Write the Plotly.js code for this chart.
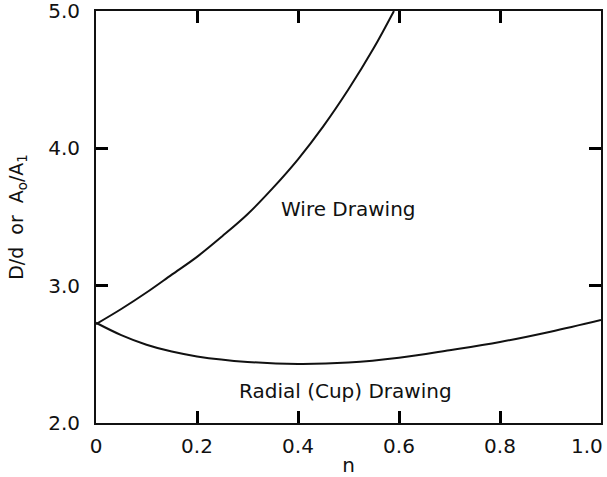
<!DOCTYPE html>
<html>
<head>
<meta charset="utf-8">
<script src="https://cdn.plot.ly/plotly-3.0.1.min.js"></script>
<style>html,body{margin:0;padding:0;background:#fff;}#chart{width:607px;height:477px;}</style>
</head>
<body>
<div id="chart"></div>
<script>
// Wire drawing limiting ratio vs n
const wireN = [0, 0.05, 0.10, 0.15, 0.20, 0.25, 0.30, 0.35, 0.40, 0.45, 0.50, 0.55, 0.59];
const wireY = [2.72, 2.83, 2.95, 3.08, 3.21, 3.36, 3.52, 3.71, 3.92, 4.16, 4.43, 4.73, 5.00];
// Radial (cup) drawing limiting ratio vs n
const cupN = [0, 0.05, 0.10, 0.15, 0.20, 0.30, 0.40, 0.50, 0.60, 0.70, 0.80, 0.90, 1.00];
const cupY = [2.73, 2.64, 2.57, 2.52, 2.485, 2.445, 2.43, 2.44, 2.475, 2.53, 2.59, 2.665, 2.75];
// Tick labels
const xTickVals = [0, 0.2, 0.4, 0.6, 0.8, 1.0];
const xTickText = ["0", "0.2", "0.4", "0.6", "0.8", "1.0"];
const yTickVals = [2, 3, 4, 5];
const yTickText = ["2.0", "3.0", "4.0", "5.0"];
// Curve labels
const labelText = ["Wire Drawing", "Radial (Cup) Drawing"];
const labelX = [0.50, 0.495];
const labelY = [3.56, 2.23];

const FONT = "DejaVu Sans, sans-serif";
const INK = "#111";
const TICK = "black";
const last = xTickVals.length - 1;

const traces = [
  {x: wireN, y: wireY, mode: "lines", line: {color: INK, width: 2, shape: "spline", smoothing: 1}, hoverinfo: "skip"},
  {x: cupN, y: cupY, xaxis: "x2", yaxis: "y2", mode: "lines", line: {color: INK, width: 2, shape: "spline", smoothing: 1}, hoverinfo: "skip"}
];

const layout = {
  width: 607, height: 477,
  margin: {l: 96, r: 6, t: 11, b: 54},
  paper_bgcolor: "#fff", plot_bgcolor: "#fff",
  showlegend: false,
  font: {family: FONT, color: INK, size: 20},
  xaxis: {
    range: [0, 1.0], tickmode: "array", tickvals: xTickVals,
    ticktext: xTickText.map((t, i) => i === last ? "" : t),
    ticks: "inside", ticklen: 12, tickwidth: 3, tickcolor: TICK, showgrid: false, zeroline: false,
    showline: true, linewidth: 2, linecolor: INK, mirror: true,
    ticklabeloverflow: "allow", ticklabelstandoff: 4,
    tickfont: {family: FONT, size: 20, color: INK},
    title: {text: "n", font: {family: FONT, size: 20, color: INK}, standoff: 6}
  },
  yaxis: {
    range: [2, 5], tickmode: "array", tickvals: yTickVals, ticktext: yTickText,
    ticks: "inside", ticklen: 12, tickwidth: 3, tickcolor: TICK, showgrid: false, zeroline: false,
    showline: true, linewidth: 2, linecolor: INK, mirror: true,
    ticklabeloverflow: "allow", ticklabelstandoff: 10,
    tickfont: {family: FONT, size: 20, color: INK},
    title: {text: "D/d  or  A<sub>o</sub>/A<sub>1</sub>", font: {family: FONT, size: 19, color: INK}, standoff: 20}
  },
  xaxis2: {
    overlaying: "x", side: "top", anchor: "y2",
    range: [0, 1.0], tickmode: "array", tickvals: xTickVals, showticklabels: false, showline: false,
    ticks: "inside", ticklen: 12, tickwidth: 3, tickcolor: TICK, showgrid: false, zeroline: false
  },
  yaxis2: {
    overlaying: "y", side: "right", anchor: "x2",
    range: [2, 5], tickmode: "array", tickvals: yTickVals, showticklabels: false, showline: false,
    ticks: "inside", ticklen: 12, tickwidth: 3, tickcolor: TICK, showgrid: false, zeroline: false
  },
  annotations: labelText.map((t, i) => ({
    x: labelX[i], y: labelY[i], xref: "x", yref: "y", text: t, showarrow: false,
    font: {family: FONT, size: 20, color: INK}
  })).concat([{
    // last x tick label, right-aligned so it stays inside the page
    x: xTickVals[last], y: 0, xref: "x", yref: "paper", text: xTickText[last],
    xanchor: "right", yanchor: "middle", yshift: -23, xshift: 4, showarrow: false,
    font: {family: FONT, size: 20, color: INK}
  }])
};

Plotly.newPlot("chart", traces, layout, {staticPlot: true, displayModeBar: false});
</script>
</body>
</html>
